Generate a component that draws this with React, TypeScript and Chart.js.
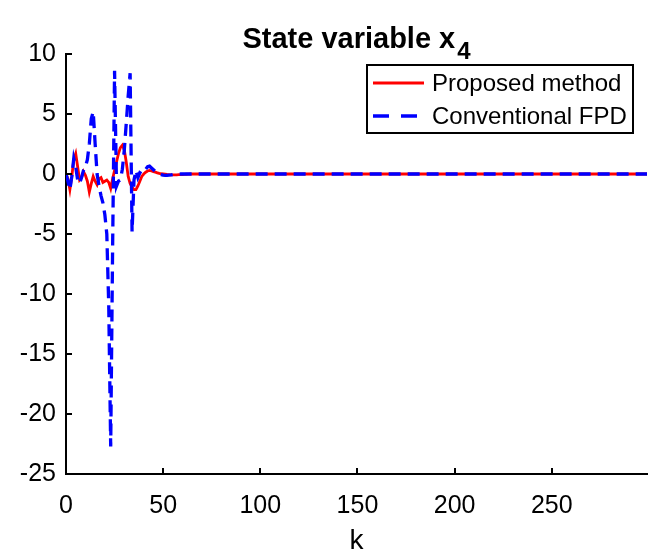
import React, { useEffect, useRef } from "react";
import { Chart, registerables } from "chart.js";

Chart.register(...registerables);

// k values (discrete time steps); after k = 65 both signals stay at 0 until k = 299
const kValues = [
  0, 1, 2, 3, 4, 5, 6, 7, 8, 9,
  10, 11, 12, 13, 14, 15, 16, 17, 18, 19,
  20, 21, 22, 23, 24, 25, 26, 27, 28, 29,
  30, 31, 32, 33, 34, 35, 36, 37, 38, 39,
  40, 41, 42, 43, 44, 45, 46, 47, 48, 49,
  50, 51, 52, 53, 54, 55, 56, 57, 58, 59,
  60, 61, 62, 63, 64, 65, 299,
];

const proposedValues = [
  0, -0.4, -1.3, -0.2, 1.2, 1.7, 0.6, -0.5, -0.3, 0.2,
  -0.1, -0.6, -1.5, -0.8, -0.2, -0.6, -0.9, -0.4, -0.3, -0.7,
  -0.6, -0.5, -0.7, -1.2, -0.4, 0.3, 1.0, 1.7, 2.2, 2.4,
  2.0, 1.0, -0.2, -0.8, -1.1, -1.3, -1.3, -1.0, -0.6, -0.2,
  0.0, 0.15, 0.25, 0.3, 0.25, 0.2, 0.15, 0.1, 0.05, 0.02,
  0.0, -0.02, -0.04, -0.05, -0.07, -0.08, -0.08, -0.07, -0.06, -0.05,
  -0.04, -0.03, -0.02, -0.01, 0.0, 0.0, 0.0,
];

const conventionalValues = [
  0, -0.6, -1.3, -0.2, 1.3, 0.6, -0.5, -0.8, -0.3, 0.3,
  0.6, 1.2, 2.5, 4.6, 5.2, 2.5, 0.0, -1.0, -1.8, -2.4,
  -3.4, -5.0, -11.0, -22.7, -6.0, 8.6, -1.0, -0.6, -0.5, 0.4,
  2.0, 4.2, 6.5, 8.4, -4.8, -0.5, 0.3, -0.3, 0.1, 0.0,
  0.2, 0.4, 0.6, 0.65, 0.5, 0.35, 0.2, 0.1, 0.0, -0.05,
  -0.1, -0.12, -0.12, -0.1, -0.08, -0.05, -0.03, -0.02, -0.01, 0.0,
  0.0, 0.0, 0.0, 0.0, 0.0, 0.0, 0.0,
];

const xTicks = [0, 50, 100, 150, 200, 250];
const yTicks = [-25, -20, -15, -10, -5, 0, 5, 10];

const seriesNames = ["Proposed method", "Conventional FPD"];
const titleMain = "State variable x";
const titleSub = "4";
const xTitle = "k";

const FONT = '"Liberation Sans", Arial, Helvetica, sans-serif';

const decorPlugin = {
  id: "decor",
  afterDraw(chart: any) {
    const { ctx, chartArea: ca, scales } = chart;
    ctx.save();
    // inward ticks
    ctx.strokeStyle = "#000";
    ctx.lineWidth = 2;
    ctx.setLineDash([]);
    xTicks.forEach((v) => {
      const px = Math.round(scales.x.getPixelForValue(v));
      ctx.beginPath();
      ctx.moveTo(px, ca.bottom);
      ctx.lineTo(px, ca.bottom - 6);
      ctx.stroke();
    });
    yTicks.forEach((v) => {
      const py = Math.round(scales.y.getPixelForValue(v));
      ctx.beginPath();
      ctx.moveTo(ca.left, py);
      ctx.lineTo(ca.left + 6, py);
      ctx.stroke();
    });

    // title with subscript
    const cx = (ca.left + ca.right) / 2;
    ctx.fillStyle = "#000";
    ctx.textBaseline = "alphabetic";
    ctx.textAlign = "left";
    ctx.font = `bold 29px ${FONT}`;
    const w1 = ctx.measureText(titleMain).width;
    ctx.font = `bold 24px ${FONT}`;
    const w2 = ctx.measureText(titleSub).width;
    const x0 = cx - (w1 + 2 + w2) / 2;
    ctx.font = `bold 29px ${FONT}`;
    ctx.fillText(titleMain, x0, 48);
    ctx.font = `bold 24px ${FONT}`;
    ctx.fillText(titleSub, x0 + w1 + 2, 59);

    // legend
    const lx = 367, ly = 65, lw = 266, lh = 68;
    ctx.fillStyle = "#fff";
    ctx.fillRect(lx, ly, lw, lh);
    ctx.strokeStyle = "#000";
    ctx.lineWidth = 2;
    ctx.strokeRect(lx, ly, lw, lh);
    const rows = [83, 116];
    const colors = ["#ff0000", "#0000ff"];
    const dashes = [[], [16, 12]];
    const widths = [2.8, 3.3];
    rows.forEach((ry, i) => {
      ctx.strokeStyle = colors[i];
      ctx.lineWidth = widths[i];
      ctx.setLineDash(dashes[i]);
      ctx.beginPath();
      ctx.moveTo(373, ry);
      ctx.lineTo(424, ry);
      ctx.stroke();
      ctx.setLineDash([]);
      ctx.fillStyle = "#000";
      ctx.font = `24px ${FONT}`;
      ctx.textBaseline = "middle";
      ctx.fillText(seriesNames[i], 432, ry + 1);
    });
    ctx.restore();
  },
};

export default function App() {
  const ref = useRef<HTMLCanvasElement | null>(null);
  useEffect(() => {
    document.body.style.margin = "0";
    const canvas = ref.current;
    if (!canvas) return;
    const proposed = kValues.map((k, i) => ({ x: k, y: proposedValues[i] }));
    const conventional = kValues.map((k, i) => ({ x: k, y: conventionalValues[i] }));
    const chart = new Chart(canvas, {
      type: "line",
      data: {
        datasets: [
          {
            label: seriesNames[1],
            data: conventional,
            borderColor: "#0000ff",
            borderWidth: 3.3,
            borderDash: [12, 7],
            pointRadius: 0,
            tension: 0,
            fill: false,
          },
          {
            label: seriesNames[0],
            data: proposed,
            borderColor: "#ff0000",
            borderWidth: 2.8,
            pointRadius: 0,
            tension: 0,
            fill: false,
          },
        ],
      },
      options: {
        responsive: false,
        animation: false,
        events: [],
        layout: { padding: { left: 0, right: 9, top: 54, bottom: 0 } },
        plugins: {
          legend: { display: false },
          title: { display: false },
          tooltip: { enabled: false },
        },
        scales: {
          x: {
            type: "linear",
            min: 0,
            max: 299,
            afterFit: (s: any) => {
              s.height = 84;
            },
            afterBuildTicks: (s: any) => {
              s.ticks = xTicks.map((v) => ({ value: v }));
            },
            ticks: {
              stepSize: 50,
              includeBounds: false,
              color: "#000",
              font: { family: FONT, size: 25 },
              padding: 17,
              maxRotation: 0,
            },
            grid: { display: false, drawTicks: false },
            border: { display: true, color: "#000", width: 2 },
            title: {
              display: true,
              text: xTitle,
              color: "#000",
              font: { family: FONT, size: 28 },
              padding: { top: 0, bottom: 0 },
            },
          },
          y: {
            type: "linear",
            min: -25,
            max: 10,
            afterFit: (s: any) => {
              s.width = 66;
            },
            afterBuildTicks: (s: any) => {
              s.ticks = yTicks.map((v) => ({ value: v }));
            },
            ticks: {
              stepSize: 5,
              color: "#000",
              font: { family: FONT, size: 25 },
              padding: 10,
            },
            grid: { display: false, drawTicks: false },
            border: { display: true, color: "#000", width: 2 },
          },
        },
      },
      plugins: [decorPlugin],
    });
    return () => chart.destroy();
  }, []);
  return (
    <div style={{ position: "absolute", left: 0, top: 0, width: 656, height: 558, background: "#fff" }}>
      <canvas ref={ref} width={656} height={558} style={{ display: "block" }} />
    </div>
  );
}
